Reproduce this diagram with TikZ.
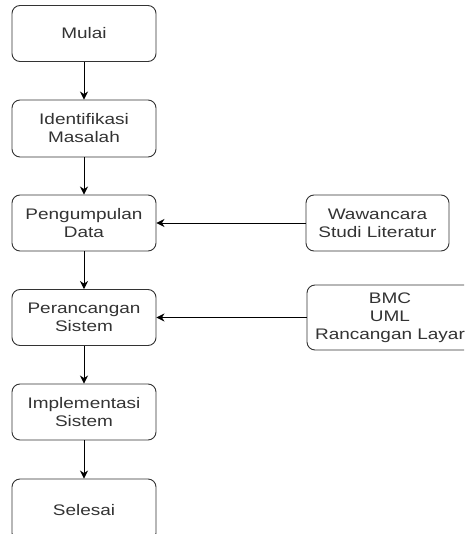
\documentclass[tikz,border=0pt]{standalone}
\usepackage{fontspec}
\setmainfont{Liberation Sans}[FakeStretch=1.24]
\usetikzlibrary{arrows.meta}
\definecolor{txt}{HTML}{333333}
\definecolor{edge}{HTML}{333333}
\tikzset{
  stepbox/.style={draw=edge, line width=0.9pt, rounded corners=8pt, fill=white,
    minimum width=144pt, minimum height=56pt, align=center,
    text=txt, font=\fontsize{15.3pt}{18pt}\selectfont, inner sep=0pt},
  flow/.style={draw=black, line width=0.9pt,
    -{Stealth[length=8pt,width=8pt,inset=2.5pt]}}
}
\begin{document}
\begin{tikzpicture}[x=1pt,y=-1pt]
\useasboundingbox (0,0) rectangle (464,534);
\clip (0,0) rectangle (464,534);
% main flow column
\node[stepbox] (mulai) at (84,33.5) {Mulai};
\node[stepbox, minimum height=57pt] (ident) at (84,128.5) {Identifikasi\\Masalah};
\node[stepbox] (kumpul) at (84,223) {Pengumpulan\\Data};
\node[stepbox] (rancang) at (84,317.5) {Perancangan\\Sistem};
\node[stepbox] (impl) at (84,412) {Implementasi\\Sistem};
\node[stepbox, minimum height=62pt] (selesai) at (84,510) {Selesai};
% inputs on the right
\node[stepbox, minimum width=143pt] (wawan) at (377.5,223) {Wawancara\\Studi Literatur};
\node[stepbox, minimum width=166pt, minimum height=65pt] (bmc) at (390,317.5) {BMC\\UML\\Rancangan Layar};
% connectors
\draw[flow] (mulai) -- (ident);
\draw[flow] (ident) -- (kumpul);
\draw[flow] (kumpul) -- (rancang);
\draw[flow] (rancang) -- (impl);
\draw[flow] (impl) -- (selesai);
\draw[flow] (wawan) -- (kumpul);
\draw[flow] (bmc.west) -- (rancang.east);
\end{tikzpicture}
\end{document}
